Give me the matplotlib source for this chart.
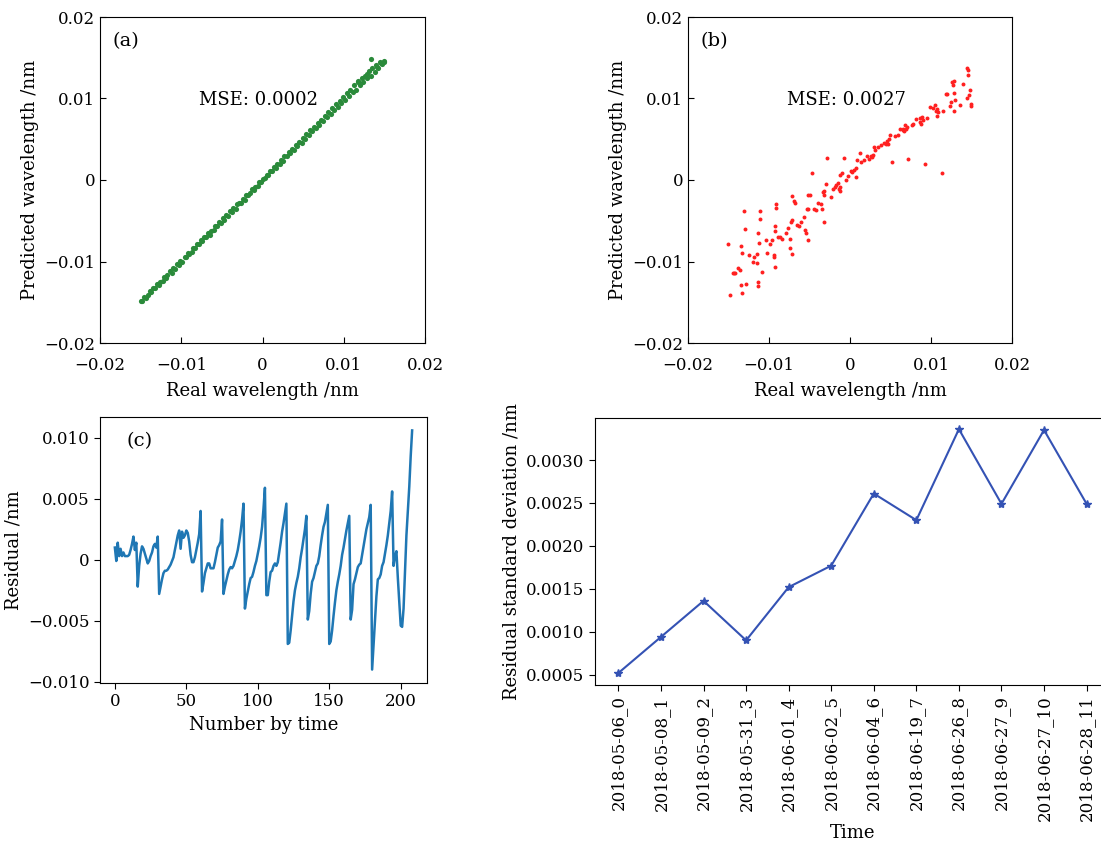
import numpy as np
import matplotlib
matplotlib.use("Agg")
import matplotlib.pyplot as plt
from matplotlib.ticker import FuncFormatter, MultipleLocator

plt.rcParams["font.family"] = ["DejaVu Serif"]
plt.rcParams["font.size"] = 12
plt.rcParams["axes.unicode_minus"] = True

# (a) training fit, values in 1e-4 nm
a_real = [-150, -148, -146, -144, -141, -139, -137, -135, -132, -130, -128, -126, -123, -121,
          -119, -117, -114, -112, -110, -108, -105, -103, -101, -99, -96, -94, -92, -90, -87,
          -85, -83, -81, -78, -76, -74, -72, -69, -67, -65, -63, -60, -58, -56, -54, -51, -49,
          -47, -45, -42, -40, -38, -36, -33, -31, -29, -27, -24, -22, -20, -18, -15, -13, -11,
          -9, -6, -4, -2, 0, 3, 5, 7, 9, 12, 14, 16, 18, 21, 23, 25, 27, 30, 32, 34, 36, 39, 41,
          43, 45, 48, 50, 52, 54, 57, 59, 61, 63, 66, 68, 70, 72, 75, 77, 79, 81, 84, 86, 88, 90,
          93, 95, 97, 99, 102, 104, 106, 108, 111, 113, 115, 117, 120, 122, 124, 126, 129, 131,
          133, 135, 138, 140, 142, 144, 147, 149, 133, 146, 150, 128, 118, 141]
a_pred = [-149, -148, -144, -145, -141, -136, -138, -133, -133, -127, -129, -125, -124, -119,
          -120, -116, -112, -114, -108, -109, -103, -104, -99, -100, -94, -95, -90, -91, -88,
          -83, -84, -79, -79, -74, -75, -70, -70, -65, -67, -62, -61, -56, -57, -52, -53, -47,
          -49, -43, -44, -38, -39, -34, -35, -30, -28, -28, -23, -24, -18, -19, -16, -11, -12,
          -8, -7, -2, -3, 1, 2, 6, 6, 11, 11, 16, 15, 20, 20, 25, 23, 29, 29, 34, 33, 38, 37, 43,
          42, 47, 46, 52, 50, 56, 55, 61, 60, 65, 64, 70, 68, 74, 73, 79, 77, 83, 81, 88, 86, 93,
          90, 97, 95, 102, 98, 107, 103, 111, 108, 116, 111, 120, 116, 125, 120, 128, 125, 134,
          128, 137, 133, 141, 137, 145, 142, 146, 148, 143, 145, 130, 121, 139]

# (b) test fit, values in 1e-4 nm
b_real = [-150.5, -148.5, -145, -143.5, -142, -138, -136, -134, -133, -134, -133, -131, -130,
          -128, -125, -120, -119, -115, -115, -113, -113, -113, -111, -111, -112, -109, -104,
          -102, -99, -96, -94, -93, -92, -93, -94, -91, -91, -89, -86, -84, -79, -76, -74, -74,
          -73, -72, -72, -71, -69, -68, -65, -63, -60, -57, -55, -54, -53, -52, -52, -52, -49,
          -47, -45, -42, -39, -36, -34, -33, -32, -32, -32, -30, -28, -24, -21, -19, -17, -15,
          -13, -12, -12, -12, -10, -8, -5, -2, 1, 3, 5, 7, 7, 9, 12, 14, 17, 21, 24, 26, 27, 28,
          30, 31, 35, 38, 42, 45, 46, 47, 49, 48, 52, 56, 59, 62, 65, 66, 67, 69, 70, 68, 72, 76,
          78, 82, 86, 87, 89, 90, 88, 93, 95, 99, 102, 105, 106, 108, 109, 108, 113, 115, 119,
          120, 124, 125, 126, 127, 128, 128, 130, 129, 136, 140, 144, 145, 146, 146, 147, 148,
          149, 149]
b_pred = [-79, -141.5, -114, -114, -114, -108, -110, -81, -89, -129, -139, -38, -60, -128, -92,
          -100, -94, -91, -102, -65, -125, -130, -38, -48, -77, -113, -74, -89, -78, -74, -92,
          -56, -62, -107, -95, -30, -34, -70, -70, -72, -65, -59, -73, -83, -52, -49, -91, -20,
          -26, -28, -55, -57, -51, -46, -61, -65, -35, -35, -74, -19, -18, 9, -35, -37, -28, -29,
          -35, -15, -13, -18, -51, -5, 27, -21, -11, -9, -6, -4, -11, -14, -8, 6, 9, 27, 0, 5,
          11, 10, 12, 15, 4, 24, 33, 22, 24, 29, 26, 30, 28, 31, 40, 37, 41, 43, 46, 44, 48, 44,
          55, 50, 22, 54, 55, 63, 61, 63, 60, 62, 65, 67, 26, 68, 69, 75, 76, 71, 77, 74, 69, 20,
          76, 89, 88, 92, 85, 87, 84, 78, 8, 85, 105, 105, 91, 96, 120, 117, 121, 107, 98, 85,
          92, 118, 101, 138, 135, 129, 104, 110, 93, 91]

# (c) residual sequence, nm
residual = [0.0010, -0.0001, 0.0014, 0.0003, 0.0009, 0.0003, 0.0006, 0.0003, 0.0003, 0.0003,
            0.0004, 0.0008, 0.0013, 0.0019, 0.0008, 0.0014, -0.0022, -0.0005, 0.0005, 0.0011,
            0.0009, 0.0005, 0.0001, -0.0003, -0.0001, 0.0003, 0.0006, 0.0011, 0.0013, 0.0010,
            0.0019, -0.0028, -0.0022, -0.0016, -0.0011, -0.0009, -0.0009, -0.0008, -0.0006,
            -0.0004, -0.0001, 0.0002, 0.0008, 0.0014, 0.0020, 0.0024, 0.0009, 0.0023, 0.0018,
            0.0020, 0.0024, 0.0022, 0.0015, 0.0004, -0.0002, -0.0002, 0.0002, 0.0008, 0.0014,
            0.0021, 0.0040, -0.0026, -0.0019, -0.0011, -0.0007, -0.0003, -0.0003, -0.0007,
            -0.0007, -0.0007, -0.0002, 0.0004, 0.0010, 0.0012, 0.0015, 0.0033, -0.0028, -0.0022,
            -0.0017, -0.0012, -0.0008, -0.0006, -0.0007, -0.0005, -0.0001, 0.0003, 0.0008,
            0.0015, 0.0023, 0.0033, 0.0046, -0.0040, -0.0032, -0.0026, -0.0020, -0.0015,
            -0.0014, -0.0010, -0.0005, -0.0001, 0.0005, 0.0011, 0.0018, 0.0027, 0.0042, 0.0059,
            -0.0029, -0.0029, -0.0018, -0.0010, -0.0009, -0.0005, -0.0003, -0.0005, -0.0002,
            0.0006, 0.0014, 0.0023, 0.0030, 0.0038, 0.0046, -0.0069, -0.0068, -0.0058, -0.0046,
            -0.0034, -0.0025, -0.0019, -0.0014, -0.0007, 0.0002, 0.0009, 0.0017, 0.0025, 0.0036,
            -0.0049, -0.0042, -0.0028, -0.0018, -0.0015, -0.0010, -0.0005, -0.0003, 0.0003,
            0.0012, 0.0020, 0.0027, 0.0031, 0.0038, 0.0045, -0.0069, -0.0067, -0.0058, -0.0046,
            -0.0035, -0.0025, -0.0018, -0.0012, -0.0005, 0.0004, 0.0010, 0.0017, 0.0024, 0.0030,
            0.0036, -0.0049, -0.0041, -0.0020, -0.0016, -0.0011, -0.0006, -0.0004, -0.0003,
            0.0004, 0.0011, 0.0018, 0.0025, 0.0030, 0.0035, 0.0045, -0.0090, -0.0070, -0.0050,
            -0.0030, -0.0016, -0.0015, -0.0012, -0.0005, -0.0002, 0.0005, 0.0012, 0.0020,
            0.0030, 0.0040, 0.0056, -0.0005, 0.0003, 0.0007, -0.0015, -0.0035, -0.0054, -0.0055,
            -0.0040, -0.0010, 0.0020, 0.0040, 0.0060, 0.0085, 0.0106]

# (d) residual std per measurement day
dates = ["2018-05-06_0", "2018-05-08_1", "2018-05-09_2", "2018-05-31_3", "2018-06-01_4",
         "2018-06-02_5", "2018-06-04_6", "2018-06-19_7", "2018-06-26_8", "2018-06-27_9",
         "2018-06-27_10", "2018-06-28_11"]
res_std = [0.00052, 0.00094, 0.00136, 0.00090, 0.00152, 0.00177, 0.00261, 0.00230,
           0.00336, 0.00249, 0.00335, 0.00249]


def fmt_zero(v, pos, nd=2):
    if abs(v) < 1e-12:
        return "0"
    return f"{v:.{nd}f}".replace("-", "\u2212")


W, H = 1101, 843
fig = plt.figure(figsize=(W / 100, H / 100), dpi=100)


def box(l, t, r, b):
    return [l / W, 1 - b / H, (r - l) / W, (b - t) / H]


def scatter_panel(rect, x, y, color, tag, mse, size):
    ax = fig.add_axes(box(*rect))
    ax.scatter(np.array(x) * 1e-4, np.array(y) * 1e-4, s=size, color=color, linewidths=0)
    ax.set_xlim(-0.02, 0.02)
    ax.set_ylim(-0.02, 0.02)
    ax.xaxis.set_major_locator(MultipleLocator(0.01))
    ax.yaxis.set_major_locator(MultipleLocator(0.01))
    ax.xaxis.set_major_formatter(FuncFormatter(fmt_zero))
    ax.yaxis.set_major_formatter(FuncFormatter(fmt_zero))
    ax.tick_params(direction="in", length=4, labelsize=12)
    ax.tick_params(axis="x", pad=10)
    ax.set_xlabel("Real wavelength /nm", fontsize=13, labelpad=6)
    ax.set_ylabel("Predicted wavelength /nm", fontsize=13)
    ax.text(0.04, 0.925, tag, transform=ax.transAxes, fontsize=14, va="center")
    ax.text(-0.0078, 0.0098, f"MSE: {mse}", fontsize=13, va="center")
    return ax


scatter_panel((100, 17, 425, 343), a_real, a_pred, "#2a8a3a", "(a)", "0.0002", 14)
scatter_panel((688, 17, 1012, 343), b_real, b_pred, "#ff2020", "(b)", "0.0027", 8)

# (c) residual over time
axc = fig.add_axes(box(100, 417, 427, 683))
axc.plot(np.arange(len(residual)), residual, color="#1f77b4", lw=1.8)
axc.set_ylim(-0.0101, 0.0117)
axc.yaxis.set_major_locator(MultipleLocator(0.005))
axc.xaxis.set_major_locator(MultipleLocator(50))
axc.yaxis.set_major_formatter(FuncFormatter(lambda v, p: fmt_zero(v, p, 3)))
axc.tick_params(labelsize=12, length=4)
axc.set_xlabel("Number by time", fontsize=13)
axc.set_ylabel("Residual /nm", fontsize=13)
axc.text(0.08, 0.91, "(c)", transform=axc.transAxes, fontsize=14, va="center")

# (d) residual standard deviation by date
axd = fig.add_axes(box(595, 418, 1110, 685))
axd.plot(range(len(dates)), res_std, color="#3452b4", lw=1.5, marker="*", ms=6)
axd.set_xticks(range(len(dates)))
axd.set_xticklabels(dates, rotation=90)
axd.set_ylim(0.00038, 0.00349)
axd.yaxis.set_major_locator(MultipleLocator(0.0005))
axd.yaxis.set_major_formatter(FuncFormatter(lambda v, p: f"{v:.4f}"))
axd.tick_params(labelsize=12, length=4)
axd.set_xlabel("Time", fontsize=13, labelpad=2)
axd.set_ylabel("Residual standard deviation /nm", fontsize=13)

fig.savefig("out.png", dpi=100)
